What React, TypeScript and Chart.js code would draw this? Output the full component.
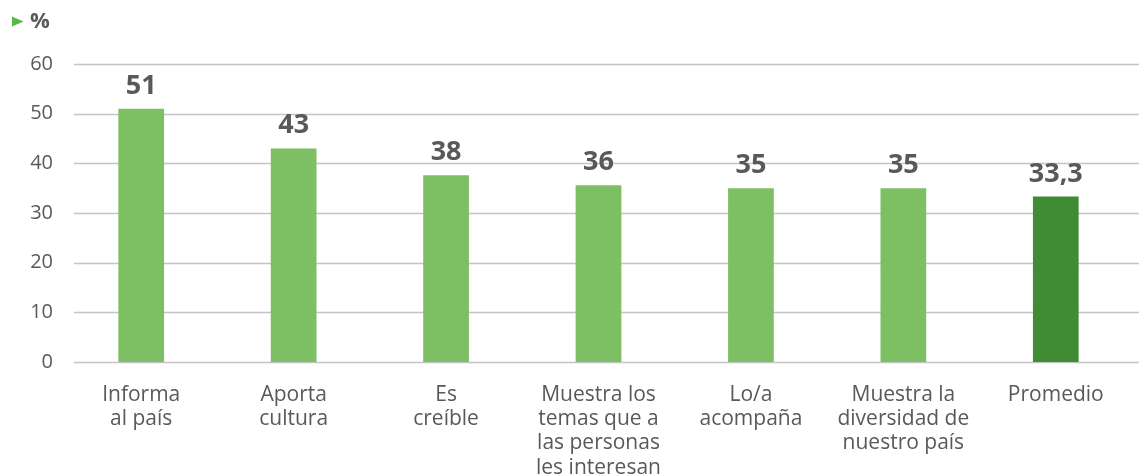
import React, { useEffect, useRef } from "react";
import { Chart, registerables } from "chart.js";

Chart.register(...registerables);

const categories: string[][] = [
  ["Informa", "al país"],
  ["Aporta", "cultura"],
  ["Es", "creíble"],
  ["Muestra los", "temas que a", "las personas", "les interesan"],
  ["Lo/a", "acompaña"],
  ["Muestra la", "diversidad de", "nuestro país"],
  ["Promedio"],
];
const values: number[] = [51, 43, 37.6, 35.6, 35, 35, 33.3];
const valueLabels: string[] = ["51", "43", "38", "36", "35", "35", "33,3"];
const barColors: string[] = ["#7dbf63", "#7dbf63", "#7dbf63", "#7dbf63", "#7dbf63", "#7dbf63", "#3f8c35"];
const yTicks = { min: 0, max: 60, step: 10 };
const unitLabel = "%";

const FONT = "'Open Sans', 'Noto Sans', sans-serif";
const TEXT = "#595959";

const valueLabelPlugin = {
  id: "valueLabels",
  afterDatasetsDraw(chart: any) {
    const ctx = chart.ctx;
    const meta = chart.getDatasetMeta(0);
    ctx.save();
    ctx.font = `bold 27px ${FONT}`;
    ctx.fillStyle = TEXT;
    ctx.textAlign = "center";
    ctx.textBaseline = "alphabetic";
    meta.data.forEach((bar: any, i: number) => {
      ctx.fillText(valueLabels[i], bar.x, bar.y - 15);
    });
    ctx.restore();
  },
};

const headerPlugin = {
  id: "header",
  afterDraw(chart: any) {
    const ctx = chart.ctx;
    ctx.save();
    ctx.fillStyle = "#57b947";
    ctx.beginPath();
    ctx.moveTo(12, 16.5);
    ctx.lineTo(23.5, 21.5);
    ctx.lineTo(12, 26.5);
    ctx.closePath();
    ctx.fill();
    ctx.font = `bold 22px ${FONT}`;
    ctx.fillStyle = TEXT;
    ctx.textAlign = "left";
    ctx.textBaseline = "alphabetic";
    ctx.fillText(unitLabel, 30, 28);
    ctx.restore();
  },
};

const gridPlugin = {
  id: "customGrid",
  beforeDatasetsDraw(chart: any) {
    const ctx = chart.ctx;
    const y = chart.scales.y;
    ctx.save();
    ctx.strokeStyle = "#c3c3c8";
    ctx.lineWidth = 1.3;
    y.ticks.forEach((t: any) => {
      const py = Math.round(y.getPixelForValue(t.value)) + 0.5;
      ctx.beginPath();
      ctx.moveTo(74, py);
      ctx.lineTo(chart.width, py);
      ctx.stroke();
    });
    ctx.restore();
  },
};

export default function App() {
  const ref = useRef<HTMLCanvasElement>(null);
  useEffect(() => {
    document.body.style.margin = "0";
    const chart = new Chart(ref.current!, {
      type: "bar",
      data: {
        labels: categories,
        datasets: [
          {
            data: values,
            backgroundColor: barColors,
            barPercentage: 0.3,
            categoryPercentage: 1,
          },
        ],
      },
      options: {
        animation: false,
        responsive: false,
        maintainAspectRatio: false,
        layout: { padding: { top: 64, right: 7, left: 0, bottom: 0 } },
        plugins: { legend: { display: false }, tooltip: { enabled: false } },
        scales: {
          x: {
            grid: { display: false },
            border: { display: false },
            ticks: {
              color: TEXT,
              font: { family: FONT, size: 21, lineHeight: 1.15 },
              padding: 13,
              maxRotation: 0,
              autoSkip: false,
            },
            afterFit(scale: any) {
              scale.height = 113;
            },
          },
          y: {
            min: yTicks.min,
            max: yTicks.max,
            grid: { display: false, drawTicks: false },
            border: { display: false },
            ticks: {
              stepSize: yTicks.step,
              color: TEXT,
              font: { family: FONT, size: 20 },
              padding: 12,
            },
            afterFit(scale: any) {
              scale.width = 65;
            },
          },
        },
      },
      plugins: [gridPlugin, valueLabelPlugin, headerPlugin],
    });
    return () => chart.destroy();
  }, []);
  return <canvas ref={ref} width={1139} height={475} style={{ display: "block" }} />;
}
